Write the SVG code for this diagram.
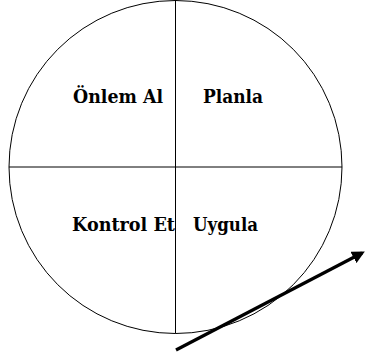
<svg xmlns="http://www.w3.org/2000/svg" width="369" height="358" viewBox="0 0 369 358">
<style>
.ln{stroke:#000;stroke-width:1;fill:none}
.lbl{font-family:"DejaVu Serif","Liberation Serif",serif;font-weight:bold;font-size:18px;fill:#000}
.lbl2{font-size:19px}
</style>
<defs>
<marker id="ah" markerWidth="4" markerHeight="4" refX="3" refY="2" orient="auto" markerUnits="strokeWidth">
<path d="M0,0 L4,2 L0,4 Z" fill="#000"/>
</marker>
</defs>
<rect width="369" height="358" fill="#fff"/>
<g id="cycle">
<circle class="ln" cx="175.5" cy="167" r="166.5"/>
<line class="ln" x1="175.5" y1="0" x2="175.5" y2="333.5"/>
<line class="ln" x1="9" y1="167" x2="342" y2="167"/>
</g>
<g id="onlem-al"><text class="lbl" x="73" y="102.5" textLength="90" lengthAdjust="spacingAndGlyphs">Önlem Al</text></g>
<g id="planla"><text class="lbl" x="203" y="102.5" textLength="60" lengthAdjust="spacingAndGlyphs">Planla</text></g>
<g id="kontrol-et"><text class="lbl lbl2" x="72" y="230.5" textLength="103" lengthAdjust="spacingAndGlyphs">Kontrol Et</text></g>
<g id="uygula"><text class="lbl lbl2" x="193" y="230.5" textLength="65" lengthAdjust="spacingAndGlyphs">Uygula</text></g>
<g id="connectors">
<line x1="176" y1="350" x2="362" y2="253" stroke="#000" stroke-width="3.2" marker-end="url(#ah)"/>
</g>
</svg>
